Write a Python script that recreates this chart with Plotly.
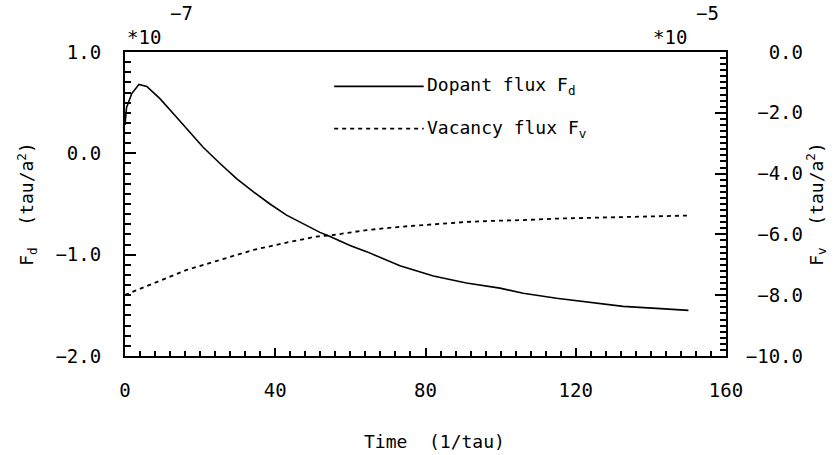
import plotly.graph_objects as go

# Time axis (1/tau)
t_dopant = [0, 0.4, 1.8, 3.7, 5.8, 9.3, 12.9, 16.4, 20.8, 25.3, 29.7, 34.2, 38.6, 43.0, 47.5,
            51.9, 54.6, 59.9, 64.3, 73.2, 82.1, 90.9, 99.8, 106.0, 114.9, 123.8, 132.6, 141.5, 150.0]
# Dopant flux F_d (units of 1e-7 tau/a^2)
f_dopant = [0.28, 0.45, 0.59, 0.68, 0.66, 0.54, 0.39, 0.24, 0.06, -0.10, -0.25, -0.38, -0.50, -0.61, -0.70,
            -0.78, -0.82, -0.91, -0.97, -1.11, -1.21, -1.28, -1.33, -1.38, -1.43, -1.47, -1.51, -1.53, -1.55]

t_vacancy = [0, 7.5, 16.4, 25.3, 34.2, 43.0, 51.0, 55.4, 64.3, 73.2, 82.1, 90.9, 98.9,
             106.0, 114.9, 123.8, 132.6, 141.5, 150.0]
# Vacancy flux F_v (units of 1e-5 tau/a^2)
f_vacancy = [-7.99, -7.61, -7.17, -6.84, -6.51, -6.27, -6.07, -6.02, -5.86, -5.75, -5.66, -5.59, -5.55,
             -5.53, -5.48, -5.45, -5.42, -5.39, -5.38]

x_ticks = [0, 40, 80, 120, 160]
y_left_ticks = [-2.0, -1.0, 0.0, 1.0]
y_right_ticks = [-10.0, -8.0, -6.0, -4.0, -2.0, 0.0]

FONT = "DejaVu Sans Mono"
NB = "\u00a0"

def fmt_left(v):
    return ("\u2212" if v < 0 else "") + f"{abs(v):.1f}"

def fmt_right(v):
    s = ("\u2212" if v < 0 else "") + f"{abs(v):.1f}"
    return NB * (5 - len(s)) + s

fig = go.Figure()
fig.add_trace(go.Scatter(x=t_dopant, y=f_dopant, mode="lines", name="Dopant flux F<sub>d</sub>",
                         line=dict(color="black", width=1.6), showlegend=False))
fig.add_trace(go.Scatter(x=t_vacancy, y=f_vacancy, mode="lines", name="Vacancy flux F<sub>v</sub>",
                         yaxis="y2", line=dict(color="black", width=1.8, dash="4px,4px"),
                         showlegend=False))

axis_common = dict(showgrid=False, zeroline=False, linecolor="black", linewidth=2,
                   ticks="inside", tickcolor="black", tickwidth=1.5, automargin=False,
                   tickfont=dict(family=FONT, size=19, color="black"))

fig.update_layout(
    width=837, height=455,
    margin=dict(l=125, r=111, t=52, b=99, autoexpand=False),
    paper_bgcolor="white", plot_bgcolor="white",
    font=dict(family=FONT, color="black", size=18),
    xaxis=dict(range=[0, 160], tickvals=x_ticks, ticktext=[str(v) for v in x_ticks],
               ticklen=8, mirror=True, ticklabelstandoff=16,
               minor=dict(dtick=4, ticklen=5, tickcolor="black", ticks="inside", tickwidth=1.5),
               **axis_common),
    yaxis=dict(range=[-2, 1], tickvals=y_left_ticks, ticktext=[fmt_left(v) for v in y_left_ticks],
               ticklen=11, ticklabelstandoff=18,
               minor=dict(dtick=0.1, ticklen=6, tickcolor="black", ticks="inside", tickwidth=1.5),
               title=dict(text="F<sub>d</sub>" + NB + NB + "(tau/a<sup>2</sup>)",
                          font=dict(family=FONT, size=18), standoff=17),
               **axis_common),
    yaxis2=dict(range=[-10, 0], overlaying="y", side="right",
                tickvals=y_right_ticks, ticktext=[fmt_right(v) for v in y_right_ticks],
                ticklen=11, ticklabelstandoff=14,
                minor=dict(dtick=0.2, ticklen=6, tickcolor="black", ticks="inside", tickwidth=1.5),
                title=dict(text="F<sub>v</sub>" + NB + NB + "(tau/a<sup>2</sup>)",
                           font=dict(family=FONT, size=18), standoff=2),
                **axis_common),
)

# x-axis title
fig.add_annotation(text="Time" + NB + NB + "(1/tau)", xref="paper", yref="paper",
                   x=0.515, y=-0.28, xanchor="center", yanchor="middle", showarrow=False,
                   font=dict(family=FONT, size=18))

# scale factors
for xp, base, exp in [(0.0, "*10", "\u22127"), (0.875, "*10", "\u22125")]:
    fig.add_annotation(text=base, xref="paper", yref="paper", x=xp, y=1.05, xanchor="left",
                       yanchor="middle", showarrow=False, font=dict(family=FONT, size=19))
    fig.add_annotation(text=exp, xref="paper", yref="paper", x=xp + 0.072, y=1.128, xanchor="left",
                       yanchor="middle", showarrow=False, font=dict(family=FONT, size=19))

# legend key
fig.add_shape(type="line", xref="paper", yref="paper", x0=0.348, x1=0.497, y0=0.887, y1=0.887,
              line=dict(color="black", width=1.6))
fig.add_shape(type="line", xref="paper", yref="paper", x0=0.348, x1=0.497, y0=0.748, y1=0.748,
              line=dict(color="black", width=1.8, dash="4px,4px"))
fig.add_annotation(text="Dopant flux F<sub>d</sub>", xref="paper", yref="paper", x=0.499, y=0.887,
                   xanchor="left", yanchor="middle", showarrow=False, font=dict(family=FONT, size=18))
fig.add_annotation(text="Vacancy flux F<sub>v</sub>", xref="paper", yref="paper", x=0.499, y=0.748,
                   xanchor="left", yanchor="middle", showarrow=False, font=dict(family=FONT, size=18))

# remove the page's default body margin so the figure sits at the window's top-left corner
fig.write_html("out.html", config={"displayModeBar": False},
               post_script="document.body.style.margin='0px';")
